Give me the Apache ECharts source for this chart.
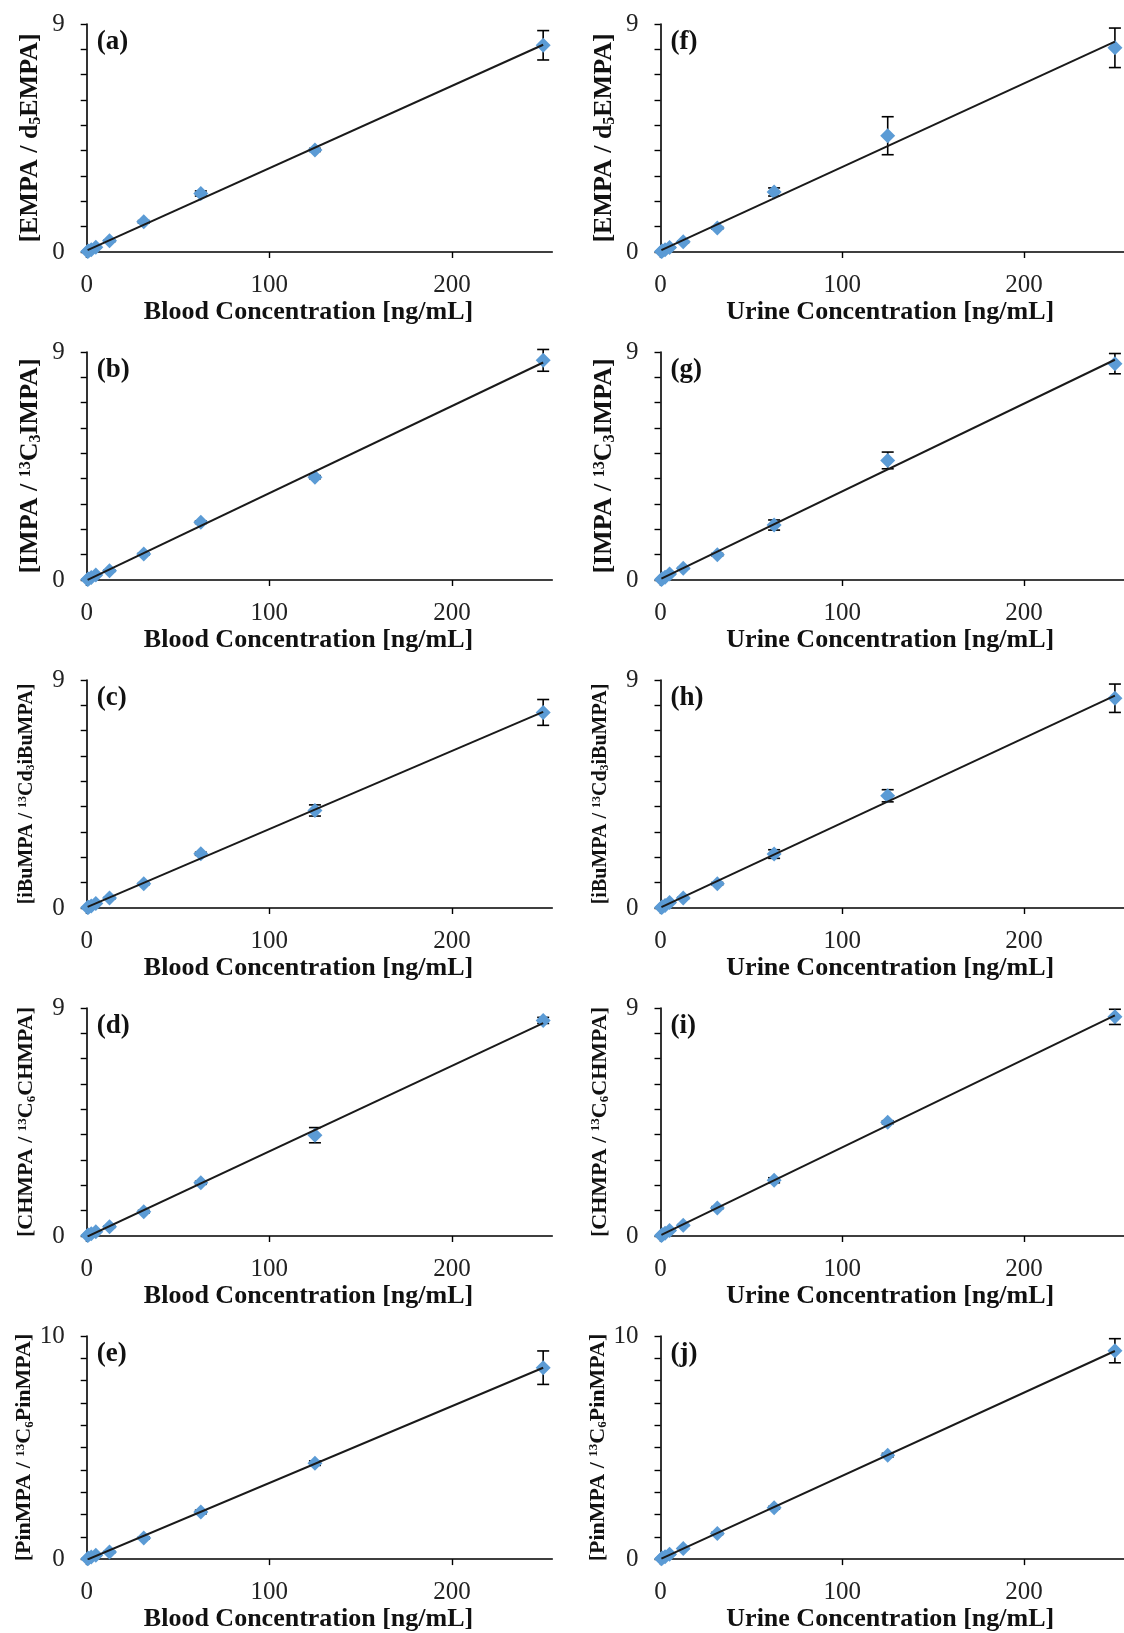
<!DOCTYPE html>
<html>
<head>
<meta charset="utf-8">
<script src="https://cdn.jsdelivr.net/npm/echarts@6/dist/echarts.min.js"></script>
<style>
html,body{margin:0;padding:0;background:#fff;}
#chart{width:1124px;height:1633px;}
</style>
</head>
<body>
<div id="chart"></div>
<script>
// ---------- data ----------
const conc = [0.5, 1, 2.5, 5, 12.5, 31.25, 62.5, 125, 250];
const xTicks = [0, 100, 200];

const bloodEMPA = [0.02, 0.04, 0.09, 0.19, 0.44, 1.19, 2.31, 4.03, 8.16];
const bloodEMPASd = [0.01, 0.01, 0.01, 0.02, 0.03, 0.05, 0.10, 0.06, 0.58];
const bloodIMPA = [0.02, 0.04, 0.10, 0.20, 0.37, 1.03, 2.28, 4.06, 8.67];
const bloodIMPASd = [0.01, 0.01, 0.01, 0.02, 0.03, 0.04, 0.05, 0.06, 0.43];
const bloodIBuMPA = [0.02, 0.03, 0.08, 0.18, 0.39, 0.96, 2.14, 3.85, 7.72];
const bloodIBuMPASd = [0.01, 0.01, 0.01, 0.02, 0.03, 0.04, 0.06, 0.22, 0.51];
const bloodCHMPA = [0.02, 0.04, 0.09, 0.17, 0.37, 0.96, 2.10, 3.98, 8.51];
const bloodCHMPASd = [0.01, 0.01, 0.01, 0.02, 0.03, 0.05, 0.06, 0.30, 0.12];
const bloodPinMPA = [0.02, 0.04, 0.09, 0.17, 0.32, 0.95, 2.11, 4.30, 8.58];
const bloodPinMPASd = [0.01, 0.01, 0.01, 0.02, 0.03, 0.05, 0.08, 0.10, 0.75];

const urineEMPA = [0.02, 0.04, 0.09, 0.18, 0.40, 0.95, 2.37, 4.59, 8.06];
const urineEMPASd = [0.01, 0.01, 0.01, 0.02, 0.03, 0.05, 0.16, 0.75, 0.78];
const urineIMPA = [0.02, 0.05, 0.11, 0.24, 0.46, 1.00, 2.17, 4.72, 8.54];
const urineIMPASd = [0.01, 0.01, 0.01, 0.02, 0.03, 0.05, 0.20, 0.33, 0.40];
const urineIBuMPA = [0.02, 0.04, 0.10, 0.22, 0.39, 0.96, 2.13, 4.43, 8.28];
const urineIBuMPASd = [0.01, 0.01, 0.01, 0.02, 0.03, 0.05, 0.17, 0.24, 0.56];
const urineCHMPA = [0.02, 0.05, 0.11, 0.22, 0.42, 1.11, 2.20, 4.49, 8.65];
const urineCHMPASd = [0.01, 0.01, 0.01, 0.02, 0.03, 0.05, 0.10, 0.06, 0.30];
const urinePinMPA = [0.02, 0.05, 0.11, 0.22, 0.47, 1.15, 2.30, 4.66, 9.34];
const urinePinMPASd = [0.01, 0.01, 0.01, 0.02, 0.03, 0.05, 0.06, 0.08, 0.54];

const panelLetters = ['(a)','(b)','(c)','(d)','(e)','(f)','(g)','(h)','(i)','(j)'];
const xTitles = ['Blood Concentration [ng/mL]', 'Urine Concentration [ng/mL]'];
const yTitles = [
  '{b|[EMPA / d}{sub|5}{b|EMPA]}',
  '{b|[IMPA / }{sup|13}{b|C}{sub|3}{b|IMPA]}',
  '{b|[iBuMPA / }{sup|13}{b|Cd}{sub|3}{b|iBuMPA]}',
  '{b|[CHMPA / }{sup|13}{b|C}{sub|6}{b|CHMPA]}',
  '{b|[PinMPA / }{sup|13}{b|C}{sub|6}{b|PinMPA]}'
];
const yMaxes = [9, 9, 9, 9, 10];

// ---------- layout ----------
const FONT = '"Liberation Serif", "Times New Roman", serif';
const colLeft = [86.7, 660.5];
const plotW = 465.6;
const rowTop = 24, rowPitch = 328, plotH = 228;
const yTitleSize = [26, 26, 20, 22, 22];
const yTitleCenter = [56, 56, 60, 60, 60];

const panelData = [
  [bloodEMPA, bloodEMPASd], [bloodIMPA, bloodIMPASd], [bloodIBuMPA, bloodIBuMPASd],
  [bloodCHMPA, bloodCHMPASd], [bloodPinMPA, bloodPinMPASd],
  [urineEMPA, urineEMPASd], [urineIMPA, urineIMPASd], [urineIBuMPA, urineIBuMPASd],
  [urineCHMPA, urineCHMPASd], [urinePinMPA, urinePinMPASd]
];

function fit(xs, ys) {
  const n = xs.length;
  let sx = 0, sy = 0, sxx = 0, sxy = 0;
  for (let i = 0; i < n; i++) { sx += xs[i]; sy += ys[i]; sxx += xs[i]*xs[i]; sxy += xs[i]*ys[i]; }
  const m = (n*sxy - sx*sy) / (n*sxx - sx*sx);
  const b = (sy - m*sx) / n;
  return [m, b];
}

const grids = [], xAxes = [], yAxes = [], series = [], graphics = [];

for (let p = 0; p < 10; p++) {
  const col = p < 5 ? 0 : 1;
  const row = p % 5;
  const left = colLeft[col];
  const top = rowTop + rowPitch * row;
  const ymax = yMaxes[row];
  const ys = panelData[p][0], sds = panelData[p][1];
  const fs = yTitleSize[row];

  grids.push({ left: left, top: top, width: plotW, height: plotH, containLabel: false });

  xAxes.push({
    type: 'value', gridIndex: p, min: 0, max: 255, interval: 100,
    axisLine: { show: true, onZero: false, lineStyle: { color: '#000', width: 1.6 } },
    axisTick: { show: true, inside: false, length: 6, customValues: xTicks, lineStyle: { color: '#000', width: 1.4 } },
    axisLabel: {
      customValues: xTicks, margin: 21,
      color: '#222', fontFamily: FONT, fontSize: 25,
      formatter: v => (xTicks.indexOf(v) >= 0 ? String(v) : '')
    },
    splitLine: { show: false },
    name: xTitles[col], nameLocation: 'middle', nameGap: 38,
    nameTextStyle: { fontFamily: FONT, fontSize: 26, fontWeight: 'bold', color: '#111',
      padding: col === 0 ? [0, 22, 0, 0] : [0, 4, 0, 0] }
  });

  yAxes.push({
    type: 'value', gridIndex: p, min: 0, max: ymax, interval: 1,
    axisLine: { show: true, onZero: false, lineStyle: { color: '#000', width: 1.6 } },
    axisTick: { show: true, inside: false, length: 6, lineStyle: { color: '#000', width: 1.4 } },
    axisLabel: {
      customValues: [0, ymax], margin: 22, color: '#222', fontFamily: FONT, fontSize: 25,
      formatter: v => (v === 0 || v === ymax ? String(v) : '')
    },
    splitLine: { show: false },
    name: yTitles[row], nameLocation: 'middle', nameGap: yTitleCenter[row] - fs / 2,
    nameTextStyle: {
      color: '#111',
      rich: {
        b: { fontFamily: FONT, fontSize: fs, fontWeight: 'bold', color: '#111' },
        sub: { fontFamily: FONT, fontSize: Math.round(fs * 0.6), fontWeight: 'bold', color: '#111', verticalAlign: 'bottom' },
        sup: { fontFamily: FONT, fontSize: Math.round(fs * 0.6), fontWeight: 'bold', color: '#111', verticalAlign: 'top' }
      }
    }
  });

  // error bars
  series.push({
    type: 'custom', xAxisIndex: p, yAxisIndex: p, z: 2,
    data: conc.map((x, i) => [x, ys[i], sds[i]]),
    renderItem: function (params, api) {
      const x = api.value(0), y = api.value(1), e = api.value(2);
      const a = api.coord([x, y + e]), b = api.coord([x, y - e]);
      const cap = 6;
      const st = { stroke: '#000', lineWidth: 1.6 };
      return { type: 'group', children: [
        { type: 'line', shape: { x1: a[0], y1: a[1], x2: b[0], y2: b[1] }, style: st },
        { type: 'line', shape: { x1: a[0] - cap, y1: a[1], x2: a[0] + cap, y2: a[1] }, style: st },
        { type: 'line', shape: { x1: b[0] - cap, y1: b[1], x2: b[0] + cap, y2: b[1] }, style: st }
      ]};
    },
    silent: true
  });

  // points
  series.push({
    type: 'scatter', xAxisIndex: p, yAxisIndex: p, z: 3,
    symbol: 'diamond', symbolSize: 15,
    itemStyle: { color: '#5B9BD5', opacity: 1 },
    data: conc.map((x, i) => [x, ys[i]]),
    silent: true
  });

  // linear trendline (least squares fit of the data)
  const mb = fit(conc, ys);
  const x0 = conc[0], x1 = conc[conc.length - 1];
  series.push({
    type: 'line', xAxisIndex: p, yAxisIndex: p, z: 4,
    showSymbol: false, symbol: 'none',
    lineStyle: { color: '#1a1a1a', width: 2 },
    data: [[x0, mb[0]*x0 + mb[1]], [x1, mb[0]*x1 + mb[1]]],
    silent: true, animation: false
  });

  graphics.push({
    type: 'text', left: left + 10, top: top + 5,
    style: { text: panelLetters[p], font: 'bold 27px ' + FONT, fill: '#111' }
  });
}

const chart = echarts.init(document.getElementById('chart'), null, { renderer: 'canvas' });
chart.setOption({
  animation: false,
  backgroundColor: '#fff',
  grid: grids,
  xAxis: xAxes,
  yAxis: yAxes,
  series: series,
  graphic: graphics
});
</script>
</body>
</html>
